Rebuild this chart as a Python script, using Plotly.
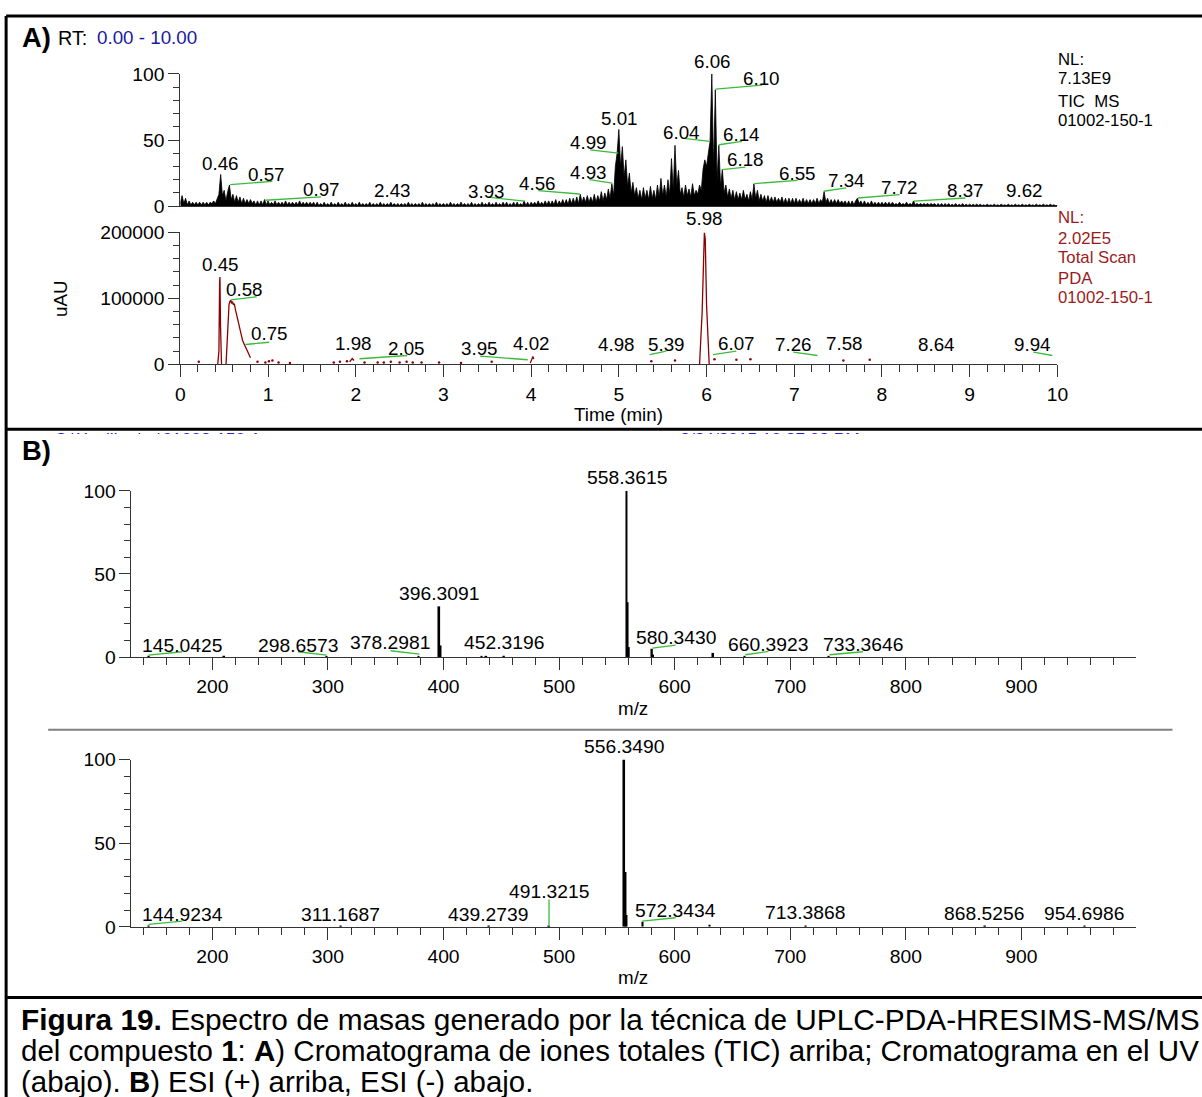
import plotly.graph_objects as go

# Target picture size; the page adds an 8 px body margin and the capture is slightly reduced,
# so layout positions (given in target-picture pixels) are mapped through K and PAGE_MARGIN.
W, H = 1202, 1097
K = 1.0146
PAGE_MARGIN = 8
X_SHIFT = 2
FW, FH = round(W * K) - PAGE_MARGIN, round(H * K) - PAGE_MARGIN
FONT = "Liberation Sans, Arial, sans-serif"

# ---------------- DATA ----------------
# A) TIC chromatogram (relative abundance, %), sampled every 0.02 min from 0.00 min
TIC_STEP = 0.02
tic_intensity = (
    [2, 8, 2, 6, 1, 4, 1, 3, 1, 3, 1, 3, 1, 3, 1, 3, 1, 3, 2, 4, 2, 6, 9, 24, 8] +
    [12, 4, 11, 16, 5, 9, 3, 8, 3, 7, 2, 6, 2, 5, 2, 5, 2, 4, 1, 4, 1, 4, 1, 5, 1] +
    [4, 1, 3, 1, 4, 1, 3, 1, 3, 1, 4, 1, 3, 1, 3, 1, 3, 1, 4, 1, 3, 1, 3, 1, 3] +
    [1, 3, 0.5, 3, 0.5, 2, 0.5, 3, 0.5, 2, 0.5, 3, 0.5, 2, 0.5, 3, 0.5, 2, 0.5, 3, 0.5, 2, 0.5, 3, 0.5] +
    [2, 0.5, 3, 0.5, 2, 0.5, 2, 0.5, 3, 0.5, 2, 0.5, 2, 0.5, 3, 0.5, 2, 0.5, 2, 0.5, 3, 0.5, 2, 0.5, 2] +
    [0.5, 2, 0.5, 2, 0.5, 3, 0.5, 2, 0.5, 2, 0.5, 2, 0.5, 3, 0.5, 2, 0.5, 2, 0.5, 2, 0.5, 3, 0.5, 2, 0.5] +
    [2, 0.5, 2, 0.5, 3, 0.5, 2, 0.5, 2, 0.5, 3, 0.5, 2, 0.5, 2, 0.5, 3, 0.5, 2, 0.5, 2, 0.5, 3, 0.5, 2] +
    [0.5, 3, 0.5, 2, 0.5, 3, 0.5, 2, 0.5, 3, 0.5, 3, 0.5, 2, 0.5, 3, 0.5, 3, 0.5, 2, 0.5, 4, 0.5, 3, 0.5] +
    [3, 1, 3, 1, 4, 1, 3, 1, 4, 1, 4, 1, 4, 1, 5, 1, 4, 1.5, 5, 1.5, 5, 1.5, 6, 2, 6] +
    [2, 7, 2, 9, 3, 7, 3, 8, 3, 7, 3, 9, 3, 8, 4, 11, 4, 10, 5, 13, 6, 17, 8, 30, 40] +
    [58, 30, 45, 22, 35, 15, 25, 10, 18, 8, 14, 6, 12, 5, 14, 6, 12, 5, 15, 6, 12, 5, 16, 7, 21] +
    [8, 16, 7, 20, 9, 36, 12, 46, 15, 27, 9, 14, 7, 16, 8, 13, 7, 17, 8, 12, 9, 16, 12, 28, 35] +
    [30, 40, 49, 100, 30, 88, 20, 46, 15, 28, 10, 16, 7, 13, 6, 12, 5, 11, 5, 10, 5, 12, 5, 9, 4] +
    [11, 5, 17, 6, 12, 4, 9, 4, 8, 3, 8, 3, 7, 3, 7, 3, 6, 3, 7, 2, 6, 2, 6, 2, 6] +
    [2, 6, 2, 5, 2, 6, 2, 5, 2, 5, 2, 5, 2, 6, 2, 5, 3, 11, 3, 6, 2, 5, 2, 5, 2] +
    [5, 2, 4, 2, 4, 1, 4, 1, 4, 1, 4, 6, 2, 4, 1, 4, 1, 3, 1, 4, 1, 3, 1, 3, 1] +
    [3, 1, 3, 1, 3, 1, 3, 1, 2, 1, 3, 1, 2, 1, 3, 1, 2, 1, 4, 1, 2, 1, 2, 1, 2] +
    [1, 2, 1, 2, 1, 2, 0.5, 2, 0.5, 2, 0.5, 2, 0.5, 2, 0.5, 1.5, 0.5, 2, 0.5, 1.5, 0.5, 2, 0.5, 1.5, 0.5] +
    [1.5, 0.5, 1.5, 0.5, 1.5, 0.5, 1.5, 0.5, 1, 0.5, 1.5, 0.5, 1, 0.5, 1.5, 0.5, 1, 0.5, 1.5, 0.5, 1, 0.5, 1.5, 0.5, 1] +
    [0.5, 1.5, 0.5, 1, 0.5, 1.5, 0.5, 1, 0.5, 1.5, 0.5, 1, 0.5, 1.5, 0.5, 1, 0.5, 1.5, 0.5, 1, 0.5, 1.5, 0.5, 1, 0.5] +
    [0.5]
)
tic_time = [round(i * TIC_STEP, 2) for i in range(len(tic_intensity))]
tic_peak_labels = ["0.46", "0.57", "0.97", "2.43", "3.93", "4.56", "4.93", "4.99", "5.01",
                   "6.04", "6.06", "6.10", "6.14", "6.18", "6.55", "7.34", "7.72", "8.37", "9.62"]

# A) UV (PDA total scan) chromatogram, uAU
uv_time = [0.425, 0.44, 0.448, 0.452, 0.458, 0.465, 0.47, None,
           0.52, 0.53, 0.545, 0.555, 0.565, 0.576, 0.585, 0.595, 0.605, 0.615, 0.63, 0.65,
           0.67, 0.69, 0.71, 0.73, 0.75, 0.77, 0.79, 0.80, None,
           1.93, 1.96, 1.98, None,
           3.99, 4.01, 4.02, 4.03, None,
           5.92, 5.95, 5.975, 5.985, 6.00, 6.02, 6.03]
uv_intensity = [-2000, 20000, 125000, 132000, 60000, 0, -3000, None,
                -3000, 20000, 70000, 90000, 95000, 97000, 92000, 95000, 90000, 92000, 82000, 70000,
                58000, 45000, 36000, 30000, 24000, 18000, 12000, 10000, None,
                4000, 9000, 6000, None,
                2000, 9000, 12000, 8000, None,
                0, 80000, 199000, 190000, 90000, 15000, 0]
uv_dot_time = [0.21, 0.88, 0.97, 1.01, 1.05, 1.12, 1.25, 1.75, 1.82, 1.90, 2.10, 2.25, 2.32,
               2.40, 2.50, 2.58, 2.65, 2.75, 2.95, 3.20, 3.55, 5.37, 5.64, 6.09, 6.34, 6.50,
               7.56, 7.86]
uv_dot_intensity = [4000, 4000, 3000, 5000, 6000, 3000, 2000, 3000, 4000, 5000, 3000, 3000, 3000,
                    4000, 3000, 4000, 3000, 3000, 3000, 2000, 4000, 5000, 6000, 8000, 7000, 8000,
                    6000, 7000]
uv_peak_labels = ["0.45", "0.58", "0.75", "1.98", "2.05", "3.95", "4.02", "4.98", "5.39",
                  "5.98", "6.07", "7.26", "7.58", "8.64", "9.94"]

# B) ESI(+) spectrum
ms_pos_mz = [145.04, 210.2, 298.66, 378.30, 396.31, 397.31, 433.0, 437.0, 452.32,
             558.36, 559.36, 560.37, 580.34, 581.35, 633.3, 660.39, 733.36]
ms_pos_int = [0.6, 0.4, 0.5, 0.6, 30.5, 7, 0.6, 0.5, 0.8,
              100, 33, 6, 5, 1.5, 2.5, 0.5, 0.5]
ms_pos_labels = ["145.0425", "298.6573", "378.2981", "396.3091", "452.3196",
                 "558.3615", "580.3430", "660.3923", "733.3646"]

# B) ESI(-) spectrum
ms_neg_mz = [144.92, 311.17, 439.27, 491.32, 556.35, 557.35, 558.36, 572.34, 630.3,
             713.39, 868.53, 954.70]
ms_neg_int = [0.5, 0.4, 0.4, 0.4, 100, 32.7, 7, 3, 1.2, 0.5, 0.4, 0.4]
ms_neg_labels = ["144.9234", "311.1687", "439.2739", "491.3215", "556.3490",
                 "572.3434", "713.3868", "868.5256", "954.6986"]

# ---------------- LAYOUT TABLES (label placement, leader lines) ----------------
TIC_LABEL_POS = [
    (0.457, 32.3, None), (0.982, 24.1, (0.568, 16.3, 1.049, 18.8)),
    (1.604, 12.8, (0.970, 4.5, 1.604, 7.0)), (2.420, 12.0, None),
    (3.491, 11.3, (3.505, 6.8, 3.927, 3.8)), (4.072, 17.5, (4.081, 11.8, 4.553, 9.2)),
    (4.654, 25.6, (4.663, 20.1, 4.925, 17.5)), (4.654, 48.1, (4.672, 42.6, 4.995, 40.1)),
    (5.010, 66.4, None), (5.717, 55.9, (5.717, 51.4, 6.039, 48.9)),
    (6.064, 109.0, None), (6.632, 96.5, (6.102, 88.5, 6.632, 91.5)),
    (6.404, 53.9, (6.139, 46.4, 6.404, 48.9)), (6.443, 35.1, (6.176, 27.6, 6.443, 29.5)),
    (7.037, 25.0, (6.548, 17.1, 7.037, 19.5)), (7.591, 19.3, (7.336, 11.3, 7.591, 13.8)),
    (8.200, 14.3, (7.725, 6.2, 8.200, 8.8)), (8.950, 12.0, (8.365, 3.8, 8.950, 6.2)),
    (9.623, 12.0, None),
]
UV_LABEL_POS = [
    (0.454, 151400, None), (0.731, 113800, (0.576, 97700, 0.870, 102300)),
    (1.014, 46200, (0.742, 30100, 1.014, 33500)), (1.975, 31100, None),
    (2.578, 23600, (2.043, 8600, 2.587, 13500)), (3.408, 23600, (3.417, 12500, 3.961, 7100)),
    (4.007, 32000, None), (4.971, 30100, None),
    (5.541, 30100, (5.352, 15000, 5.541, 20000)), (5.978, 220600, None),
    (6.339, 32000, (6.073, 15000, 6.339, 20000)), (6.989, 30100, (6.989, 18500, 7.265, 13500)),
    (7.573, 32000, None), (8.627, 30100, None), (9.718, 30100, (9.726, 18500, 9.943, 13500)),
]
POS_LABEL_POS = [
    (174.0, 7.2, (144.8, 1.2, 174.0, 3.2)), (274.1, 7.2, (274.1, 3.2, 298.9, 1.2)),
    (353.7, 8.8, (354.2, 3.8, 379.2, 1.8)), (396.1, 38.3, None), (452.4, 8.8, None),
    (558.7, 108.2, None), (600.8, 11.8, (580.9, 5.4, 600.8, 7.2)),
    (681.1, 7.8, (661.2, 1.4, 681.1, 3.4)), (762.9, 7.8, (734.0, 1.4, 762.9, 3.2)),
]
NEG_LABEL_POS = [
    (174.0, 7.3, (144.8, 1.4, 174.0, 3.4)), (310.5, 7.3, None), (438.8, 7.3, None),
    (491.1, 21.3, (491.3, 16.3, 491.3, 1.0)), (556.1, 107.6, None),
    (600.8, 9.7, (571.9, 3.4, 600.8, 5.4)), (712.8, 8.3, None), (867.7, 7.7, None),
    (954.1, 7.7, None),
]


def px(x):
    return ((x + X_SHIFT) * K - PAGE_MARGIN) / FW


def py(y):
    return 1 - (y * K - PAGE_MARGIN) / FH


def fs(s):
    return round(s * K, 2)


BLACK = "#000000"
AX = "#333333"
RED = "#8B0000"
RED_TXT = "#9B1B1B"
GREEN = "#3cba3c"
BLUE = "#1a1aa0"

fig = go.Figure()

fig.add_trace(go.Scatter(x=tic_time, y=tic_intensity, mode="lines",
                         line=dict(color=BLACK, width=0.8), fill="tozeroy",
                         fillcolor=BLACK, xaxis="x", yaxis="y", hoverinfo="skip"))
fig.add_trace(go.Scatter(x=uv_time, y=uv_intensity, mode="lines", connectgaps=False,
                         line=dict(color=RED, width=1.3), xaxis="x2", yaxis="y2"))
fig.add_trace(go.Scatter(x=uv_dot_time, y=uv_dot_intensity, mode="markers",
                         marker=dict(color=RED, size=2.5), xaxis="x2", yaxis="y2"))
fig.add_trace(go.Bar(x=ms_pos_mz, y=ms_pos_int, width=1.5,
                     marker=dict(color=BLACK, line=dict(width=0)), xaxis="x3", yaxis="y3"))
fig.add_trace(go.Bar(x=ms_neg_mz, y=ms_neg_int, width=1.5,
                     marker=dict(color=BLACK, line=dict(width=0)), xaxis="x4", yaxis="y4"))
# partially hidden instrument header text under the panel divider
fig.add_trace(go.Scatter(x=[158, 770], y=[-0.2, -0.2], mode="text",
                         text=["C:\\Xcalibur\\...\\01002-150-1", "2/24/2015 10:27:09 PM"],
                         textfont=dict(color="#2222cc", size=fs(17), family=FONT),
                         cliponaxis=True, xaxis="x5", yaxis="y5"))

base = dict(showgrid=False, zeroline=False, showline=True, linecolor=AX, linewidth=1,
            tickcolor=AX, tickwidth=1, tickfont=dict(size=fs(19), color=BLACK, family=FONT))

X_TIME = [px(181), px(1057)]
X_MZ = [px(132.2), px(1135.3)]
MAJ, MIN_X, MAJ_Y, MIN_Y = round(12 * K), round(7 * K), round(11 * K), round(6 * K)
TIC_MAX, UV_MAX, MS_MAX = 100, 200000, 100

fig.update_layout(
    width=FW, height=FH, margin=dict(l=0, r=0, t=0, b=0),
    paper_bgcolor="white", plot_bgcolor="rgba(0,0,0,0)", showlegend=False,
    font=dict(family=FONT, color=BLACK),
    xaxis=dict(base, domain=X_TIME, range=[0, 10], ticks="", showticklabels=False, anchor="y"),
    yaxis=dict(base, domain=[py(205), py(72)], range=[0, TIC_MAX], ticks="outside", ticklen=MAJ_Y,
               tickvals=[0, 50, 100], minor=dict(dtick=10, ticks="outside", ticklen=MIN_Y, tickcolor=AX),
               anchor="x"),
    xaxis2=dict(base, domain=X_TIME, range=[0, 10], ticks="outside", ticklen=MAJ, dtick=1, tick0=0,
                minor=dict(dtick=0.2, ticks="outside", ticklen=MIN_X, tickcolor=AX), anchor="y2"),
    yaxis2=dict(base, domain=[py(364), py(231)], range=[0, UV_MAX], ticks="outside", ticklen=MAJ_Y,
                tickvals=[0, 100000, 200000], tickformat="d",
                minor=dict(dtick=20000, ticks="outside", ticklen=MIN_Y, tickcolor=AX), anchor="x2"),
    xaxis3=dict(base, domain=X_MZ, range=[130, 999], ticks="outside", ticklen=MAJ, dtick=100, tick0=0,
                minor=dict(dtick=20, ticks="outside", ticklen=MIN_X, tickcolor=AX), anchor="y3"),
    yaxis3=dict(base, domain=[py(658), py(491)], range=[0, MS_MAX], ticks="outside", ticklen=MAJ_Y,
                tickvals=[0, 50, 100], minor=dict(dtick=10, ticks="outside", ticklen=MIN_Y, tickcolor=AX),
                anchor="x3"),
    xaxis4=dict(base, domain=X_MZ, range=[130, 999], ticks="outside", ticklen=MAJ, dtick=100, tick0=0,
                minor=dict(dtick=20, ticks="outside", ticklen=MIN_X, tickcolor=AX), anchor="y4"),
    yaxis4=dict(base, domain=[py(929), py(761)], range=[0, MS_MAX], ticks="outside", ticklen=MAJ_Y,
                tickvals=[0, 50, 100], minor=dict(dtick=10, ticks="outside", ticklen=MIN_Y, tickcolor=AX),
                anchor="x4"),
    xaxis5=dict(domain=[0, 1], range=[PAGE_MARGIN / K - X_SHIFT, (FW + PAGE_MARGIN) / K - X_SHIFT],
                visible=False, anchor="y5"),
    yaxis5=dict(domain=[py(434), py(400)], range=[0, 1], visible=False, anchor="x5"),
)

annotations = []
shapes = []


def add_labels(labels, table, xr, yr, ymax, size=19):
    # label heights are given in data units; placed in axis-domain units so that labels
    # above the top of the range (the base peaks) are still drawn
    for text, (x, y, leader) in zip(labels, table):
        annotations.append(dict(x=x, y=y / ymax, xref=xr, yref=yr + " domain", text=text,
                                showarrow=False, xanchor="center", yanchor="middle",
                                font=dict(size=fs(size), color=BLACK, family=FONT)))
        if leader is not None:
            x1, y1, x2, y2 = leader
            shapes.append(dict(type="line", xref=xr, yref=yr, x0=x1, y0=y1, x1=x2, y1=y2,
                               line=dict(color=GREEN, width=1.3), layer="above"))


add_labels(tic_peak_labels, TIC_LABEL_POS, "x", "y", TIC_MAX, 18.5)
add_labels(uv_peak_labels, UV_LABEL_POS, "x2", "y2", UV_MAX, 18.5)
add_labels(ms_pos_labels, POS_LABEL_POS, "x3", "y3", MS_MAX, 19)
add_labels(ms_neg_labels, NEG_LABEL_POS, "x4", "y4", MS_MAX, 19)


def text(x, y, s, size, color=BLACK, xanchor="left", angle=0):
    annotations.append(dict(x=px(x), y=py(y), xref="paper", yref="paper", text=s,
                            showarrow=False, xanchor=xanchor, yanchor="middle", textangle=angle,
                            font=dict(size=fs(size), color=color, family=FONT)))


text(21, 36, "<b>A)</b>", 27)
text(57, 36, "RT:", 19.5)
text(96, 36, "0.00 - 10.00", 18.5, BLUE)
text(21, 450, "<b>B)</b>", 27)

for y, s in [(58, "NL:"), (77, "7.13E9"), (100, "TIC  MS"), (119, "01002-150-1")]:
    text(1056, y, s, 16.5)
for y, s in [(216, "NL:"), (237, "2.02E5"), (257, "Total Scan"), (278, "PDA"), (297, "01002-150-1")]:
    text(1056, y, s, 16.5, RED_TXT)

text(62, 298, "uAU", 18.5, xanchor="center", angle=-90)
text(619, 414, "Time (min)", 18.5, xanchor="center")
text(633, 710, "m/z", 18.5, xanchor="center")
text(633, 980, "m/z", 18.5, xanchor="center")

text(20, 1022, "<b>Figura 19.</b> Espectro de masas generado por la técnica de UPLC-PDA-HRESIMS-MS/MS", 29.4)
text(20, 1053, "del compuesto <b>1</b>: <b>A</b>) Cromatograma de iones totales (TIC) arriba; Cromatograma en el UV", 29.1)
text(20, 1084, "(abajo). <b>B</b>) ESI (+) arriba, ESI (-) abajo.", 29)


def frame_line(x0, y0, x1, y1, width=3, color=BLACK):
    shapes.append(dict(type="line", xref="paper", yref="paper", x0=px(x0), y0=py(y0),
                       x1=px(x1), y1=py(y1), line=dict(color=color, width=width), layer="above"))


frame_line(7, 14, 1210, 14)
frame_line(7, 14, 7, 1110)
frame_line(7, 429, 1210, 429)
frame_line(7, 1000, 1210, 1000)
frame_line(49, 731, 1172, 731, 2, "#808080")

fig.update_layout(annotations=annotations, shapes=shapes)
fig.write_html("out.html")
